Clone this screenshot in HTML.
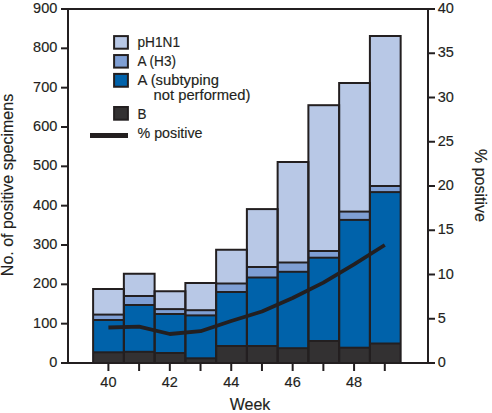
<!DOCTYPE html>
<html><head><meta charset="utf-8"><style>
html,body{margin:0;padding:0;background:#fff;}
svg{display:block;}
text{font-family:"Liberation Sans",sans-serif;fill:#231f20;stroke:#231f20;stroke-width:0.15px;}
</style></head><body>
<svg width="492" height="413" viewBox="0 0 492 413">
<rect x="93.11" y="289.00" width="30.75" height="25.60" fill="#b8c8e6"/>
<rect x="93.11" y="314.60" width="30.75" height="5.40" fill="#7f9fd4"/>
<rect x="93.11" y="320.00" width="30.75" height="32.30" fill="#0062aa"/>
<rect x="93.11" y="352.30" width="30.75" height="10.70" fill="#333132"/>
<rect x="123.86" y="273.75" width="30.75" height="22.25" fill="#b8c8e6"/>
<rect x="123.86" y="296.00" width="30.75" height="9.00" fill="#7f9fd4"/>
<rect x="123.86" y="305.00" width="30.75" height="46.80" fill="#0062aa"/>
<rect x="123.86" y="351.80" width="30.75" height="11.20" fill="#333132"/>
<rect x="154.62" y="291.25" width="30.75" height="17.85" fill="#b8c8e6"/>
<rect x="154.62" y="309.10" width="30.75" height="4.90" fill="#7f9fd4"/>
<rect x="154.62" y="314.00" width="30.75" height="39.00" fill="#0062aa"/>
<rect x="154.62" y="353.00" width="30.75" height="10.00" fill="#333132"/>
<rect x="185.37" y="283.00" width="30.75" height="27.20" fill="#b8c8e6"/>
<rect x="185.37" y="310.20" width="30.75" height="5.20" fill="#7f9fd4"/>
<rect x="185.37" y="315.40" width="30.75" height="42.90" fill="#0062aa"/>
<rect x="185.37" y="358.30" width="30.75" height="4.70" fill="#333132"/>
<rect x="216.13" y="249.75" width="30.75" height="33.75" fill="#b8c8e6"/>
<rect x="216.13" y="283.50" width="30.75" height="8.50" fill="#7f9fd4"/>
<rect x="216.13" y="292.00" width="30.75" height="54.00" fill="#0062aa"/>
<rect x="216.13" y="346.00" width="30.75" height="17.00" fill="#333132"/>
<rect x="246.88" y="209.10" width="30.75" height="57.90" fill="#b8c8e6"/>
<rect x="246.88" y="267.00" width="30.75" height="10.50" fill="#7f9fd4"/>
<rect x="246.88" y="277.50" width="30.75" height="68.50" fill="#0062aa"/>
<rect x="246.88" y="346.00" width="30.75" height="17.00" fill="#333132"/>
<rect x="277.63" y="162.00" width="30.75" height="100.50" fill="#b8c8e6"/>
<rect x="277.63" y="262.50" width="30.75" height="9.30" fill="#7f9fd4"/>
<rect x="277.63" y="271.80" width="30.75" height="76.40" fill="#0062aa"/>
<rect x="277.63" y="348.20" width="30.75" height="14.80" fill="#333132"/>
<rect x="308.39" y="105.20" width="30.75" height="145.80" fill="#b8c8e6"/>
<rect x="308.39" y="251.00" width="30.75" height="6.70" fill="#7f9fd4"/>
<rect x="308.39" y="257.70" width="30.75" height="83.30" fill="#0062aa"/>
<rect x="308.39" y="341.00" width="30.75" height="22.00" fill="#333132"/>
<rect x="339.14" y="83.00" width="30.75" height="128.60" fill="#b8c8e6"/>
<rect x="339.14" y="211.60" width="30.75" height="8.30" fill="#7f9fd4"/>
<rect x="339.14" y="219.90" width="30.75" height="127.80" fill="#0062aa"/>
<rect x="339.14" y="347.70" width="30.75" height="15.30" fill="#333132"/>
<rect x="369.90" y="36.00" width="30.75" height="150.00" fill="#b8c8e6"/>
<rect x="369.90" y="186.00" width="30.75" height="6.10" fill="#7f9fd4"/>
<rect x="369.90" y="192.10" width="30.75" height="151.40" fill="#0062aa"/>
<rect x="369.90" y="343.50" width="30.75" height="19.50" fill="#333132"/>
<rect x="93.11" y="289.00" width="30.75" height="74.00" fill="none" stroke="#231f20" stroke-width="2"/>
<line x1="93.11" y1="314.60" x2="123.86" y2="314.60" stroke="#231f20" stroke-width="2"/>
<line x1="93.11" y1="320.00" x2="123.86" y2="320.00" stroke="#231f20" stroke-width="2"/>
<line x1="93.11" y1="352.30" x2="123.86" y2="352.30" stroke="#231f20" stroke-width="2"/>
<rect x="123.86" y="273.75" width="30.75" height="89.25" fill="none" stroke="#231f20" stroke-width="2"/>
<line x1="123.86" y1="296.00" x2="154.62" y2="296.00" stroke="#231f20" stroke-width="2"/>
<line x1="123.86" y1="305.00" x2="154.62" y2="305.00" stroke="#231f20" stroke-width="2"/>
<line x1="123.86" y1="351.80" x2="154.62" y2="351.80" stroke="#231f20" stroke-width="2"/>
<rect x="154.62" y="291.25" width="30.75" height="71.75" fill="none" stroke="#231f20" stroke-width="2"/>
<line x1="154.62" y1="309.10" x2="185.37" y2="309.10" stroke="#231f20" stroke-width="2"/>
<line x1="154.62" y1="314.00" x2="185.37" y2="314.00" stroke="#231f20" stroke-width="2"/>
<line x1="154.62" y1="353.00" x2="185.37" y2="353.00" stroke="#231f20" stroke-width="2"/>
<rect x="185.37" y="283.00" width="30.75" height="80.00" fill="none" stroke="#231f20" stroke-width="2"/>
<line x1="185.37" y1="310.20" x2="216.13" y2="310.20" stroke="#231f20" stroke-width="2"/>
<line x1="185.37" y1="315.40" x2="216.13" y2="315.40" stroke="#231f20" stroke-width="2"/>
<line x1="185.37" y1="358.30" x2="216.13" y2="358.30" stroke="#231f20" stroke-width="2"/>
<rect x="216.13" y="249.75" width="30.75" height="113.25" fill="none" stroke="#231f20" stroke-width="2"/>
<line x1="216.13" y1="283.50" x2="246.88" y2="283.50" stroke="#231f20" stroke-width="2"/>
<line x1="216.13" y1="292.00" x2="246.88" y2="292.00" stroke="#231f20" stroke-width="2"/>
<line x1="216.13" y1="346.00" x2="246.88" y2="346.00" stroke="#231f20" stroke-width="2"/>
<rect x="246.88" y="209.10" width="30.75" height="153.90" fill="none" stroke="#231f20" stroke-width="2"/>
<line x1="246.88" y1="267.00" x2="277.63" y2="267.00" stroke="#231f20" stroke-width="2"/>
<line x1="246.88" y1="277.50" x2="277.63" y2="277.50" stroke="#231f20" stroke-width="2"/>
<line x1="246.88" y1="346.00" x2="277.63" y2="346.00" stroke="#231f20" stroke-width="2"/>
<rect x="277.63" y="162.00" width="30.75" height="201.00" fill="none" stroke="#231f20" stroke-width="2"/>
<line x1="277.63" y1="262.50" x2="308.39" y2="262.50" stroke="#231f20" stroke-width="2"/>
<line x1="277.63" y1="271.80" x2="308.39" y2="271.80" stroke="#231f20" stroke-width="2"/>
<line x1="277.63" y1="348.20" x2="308.39" y2="348.20" stroke="#231f20" stroke-width="2"/>
<rect x="308.39" y="105.20" width="30.75" height="257.80" fill="none" stroke="#231f20" stroke-width="2"/>
<line x1="308.39" y1="251.00" x2="339.14" y2="251.00" stroke="#231f20" stroke-width="2"/>
<line x1="308.39" y1="257.70" x2="339.14" y2="257.70" stroke="#231f20" stroke-width="2"/>
<line x1="308.39" y1="341.00" x2="339.14" y2="341.00" stroke="#231f20" stroke-width="2"/>
<rect x="339.14" y="83.00" width="30.75" height="280.00" fill="none" stroke="#231f20" stroke-width="2"/>
<line x1="339.14" y1="211.60" x2="369.90" y2="211.60" stroke="#231f20" stroke-width="2"/>
<line x1="339.14" y1="219.90" x2="369.90" y2="219.90" stroke="#231f20" stroke-width="2"/>
<line x1="339.14" y1="347.70" x2="369.90" y2="347.70" stroke="#231f20" stroke-width="2"/>
<rect x="369.90" y="36.00" width="30.75" height="327.00" fill="none" stroke="#231f20" stroke-width="2"/>
<line x1="369.90" y1="186.00" x2="400.65" y2="186.00" stroke="#231f20" stroke-width="2"/>
<line x1="369.90" y1="192.10" x2="400.65" y2="192.10" stroke="#231f20" stroke-width="2"/>
<line x1="369.90" y1="343.50" x2="400.65" y2="343.50" stroke="#231f20" stroke-width="2"/>
<polyline points="108.40,327.50 139.11,326.60 169.82,334.00 200.53,331.20 231.24,321.00 261.95,311.50 292.66,298.00 323.37,282.60 354.08,264.40 384.79,245.00" fill="none" stroke="#231f20" stroke-width="3.8" stroke-linejoin="round"/>
<line x1="68" y1="9" x2="68" y2="363" stroke="#231f20" stroke-width="2"/>
<line x1="428" y1="9" x2="428" y2="363" stroke="#231f20" stroke-width="2"/>
<line x1="61" y1="9" x2="435" y2="9" stroke="#231f20" stroke-width="2"/>
<line x1="61" y1="363" x2="435" y2="363" stroke="#231f20" stroke-width="2"/>
<line x1="61" y1="363.00" x2="68" y2="363.00" stroke="#231f20" stroke-width="2"/>
<line x1="61" y1="323.67" x2="68" y2="323.67" stroke="#231f20" stroke-width="2"/>
<line x1="61" y1="284.33" x2="68" y2="284.33" stroke="#231f20" stroke-width="2"/>
<line x1="61" y1="245.00" x2="68" y2="245.00" stroke="#231f20" stroke-width="2"/>
<line x1="61" y1="205.67" x2="68" y2="205.67" stroke="#231f20" stroke-width="2"/>
<line x1="61" y1="166.33" x2="68" y2="166.33" stroke="#231f20" stroke-width="2"/>
<line x1="61" y1="127.00" x2="68" y2="127.00" stroke="#231f20" stroke-width="2"/>
<line x1="61" y1="87.67" x2="68" y2="87.67" stroke="#231f20" stroke-width="2"/>
<line x1="61" y1="48.33" x2="68" y2="48.33" stroke="#231f20" stroke-width="2"/>
<line x1="61" y1="9.00" x2="68" y2="9.00" stroke="#231f20" stroke-width="2"/>
<line x1="428" y1="363.00" x2="435" y2="363.00" stroke="#231f20" stroke-width="2"/>
<line x1="428" y1="318.75" x2="435" y2="318.75" stroke="#231f20" stroke-width="2"/>
<line x1="428" y1="274.50" x2="435" y2="274.50" stroke="#231f20" stroke-width="2"/>
<line x1="428" y1="230.25" x2="435" y2="230.25" stroke="#231f20" stroke-width="2"/>
<line x1="428" y1="186.00" x2="435" y2="186.00" stroke="#231f20" stroke-width="2"/>
<line x1="428" y1="141.75" x2="435" y2="141.75" stroke="#231f20" stroke-width="2"/>
<line x1="428" y1="97.50" x2="435" y2="97.50" stroke="#231f20" stroke-width="2"/>
<line x1="428" y1="53.25" x2="435" y2="53.25" stroke="#231f20" stroke-width="2"/>
<line x1="428" y1="9.00" x2="435" y2="9.00" stroke="#231f20" stroke-width="2"/>
<line x1="108.40" y1="363" x2="108.40" y2="371" stroke="#231f20" stroke-width="2"/>
<line x1="139.11" y1="363" x2="139.11" y2="371" stroke="#231f20" stroke-width="2"/>
<line x1="169.82" y1="363" x2="169.82" y2="371" stroke="#231f20" stroke-width="2"/>
<line x1="200.53" y1="363" x2="200.53" y2="371" stroke="#231f20" stroke-width="2"/>
<line x1="231.24" y1="363" x2="231.24" y2="371" stroke="#231f20" stroke-width="2"/>
<line x1="261.95" y1="363" x2="261.95" y2="371" stroke="#231f20" stroke-width="2"/>
<line x1="292.66" y1="363" x2="292.66" y2="371" stroke="#231f20" stroke-width="2"/>
<line x1="323.37" y1="363" x2="323.37" y2="371" stroke="#231f20" stroke-width="2"/>
<line x1="354.08" y1="363" x2="354.08" y2="371" stroke="#231f20" stroke-width="2"/>
<line x1="384.79" y1="363" x2="384.79" y2="371" stroke="#231f20" stroke-width="2"/>
<text x="57.3" y="367.10" text-anchor="end" font-size="14.5">0</text>
<text x="57.3" y="327.77" text-anchor="end" font-size="14.5">100</text>
<text x="57.3" y="288.43" text-anchor="end" font-size="14.5">200</text>
<text x="57.3" y="249.10" text-anchor="end" font-size="14.5">300</text>
<text x="57.3" y="209.77" text-anchor="end" font-size="14.5">400</text>
<text x="57.3" y="170.43" text-anchor="end" font-size="14.5">500</text>
<text x="57.3" y="131.10" text-anchor="end" font-size="14.5">600</text>
<text x="57.3" y="91.77" text-anchor="end" font-size="14.5">700</text>
<text x="57.3" y="52.43" text-anchor="end" font-size="14.5">800</text>
<text x="57.3" y="13.10" text-anchor="end" font-size="14.5">900</text>
<text x="437.8" y="367.10" font-size="14.5">0</text>
<text x="437.8" y="322.85" font-size="14.5">5</text>
<text x="437.8" y="278.60" font-size="14.5">10</text>
<text x="437.8" y="234.35" font-size="14.5">15</text>
<text x="437.8" y="190.10" font-size="14.5">20</text>
<text x="437.8" y="145.85" font-size="14.5">25</text>
<text x="437.8" y="101.60" font-size="14.5">30</text>
<text x="437.8" y="57.35" font-size="14.5">35</text>
<text x="437.8" y="13.10" font-size="14.5">40</text>
<text x="108.40" y="387" text-anchor="middle" font-size="14.5">40</text>
<text x="169.82" y="387" text-anchor="middle" font-size="14.5">42</text>
<text x="231.24" y="387" text-anchor="middle" font-size="14.5">44</text>
<text x="292.66" y="387" text-anchor="middle" font-size="14.5">46</text>
<text x="354.08" y="387" text-anchor="middle" font-size="14.5">48</text>
<text x="250" y="409.5" text-anchor="middle" font-size="16">Week</text>
<text transform="translate(13.3,185) rotate(-90)" text-anchor="middle" font-size="16">No. of positive specimens</text>
<text transform="translate(475,185.5) rotate(90)" text-anchor="middle" font-size="16">% positive</text>
<rect x="114.1" y="36.10" width="13.8" height="12.60" fill="#b8c8e6" stroke="#231f20" stroke-width="2"/>
<rect x="114.1" y="55.05" width="13.8" height="12.55" fill="#7f9fd4" stroke="#231f20" stroke-width="2"/>
<rect x="114.1" y="73.90" width="13.8" height="12.85" fill="#0062aa" stroke="#231f20" stroke-width="2"/>
<rect x="114.1" y="107.00" width="13.8" height="12.70" fill="#333132" stroke="#231f20" stroke-width="2"/>
<line x1="90" y1="135.4" x2="128" y2="135.4" stroke="#231f20" stroke-width="5"/>
<text x="137.5" y="47" font-size="14.2" textLength="42.5" lengthAdjust="spacingAndGlyphs">pH1N1</text>
<text x="137.5" y="66" font-size="14.2" textLength="38.5" lengthAdjust="spacingAndGlyphs">A (H3)</text>
<text x="137.5" y="85" font-size="14.2" textLength="81.5" lengthAdjust="spacingAndGlyphs">A (subtyping</text>
<text x="153.5" y="100" font-size="14.2" textLength="97" lengthAdjust="spacingAndGlyphs">not performed)</text>
<text x="137.5" y="119" font-size="14.2" textLength="9" lengthAdjust="spacingAndGlyphs">B</text>
<text x="137.5" y="138" font-size="14.2" textLength="65" lengthAdjust="spacingAndGlyphs">% positive</text>
</svg>
</body></html>
